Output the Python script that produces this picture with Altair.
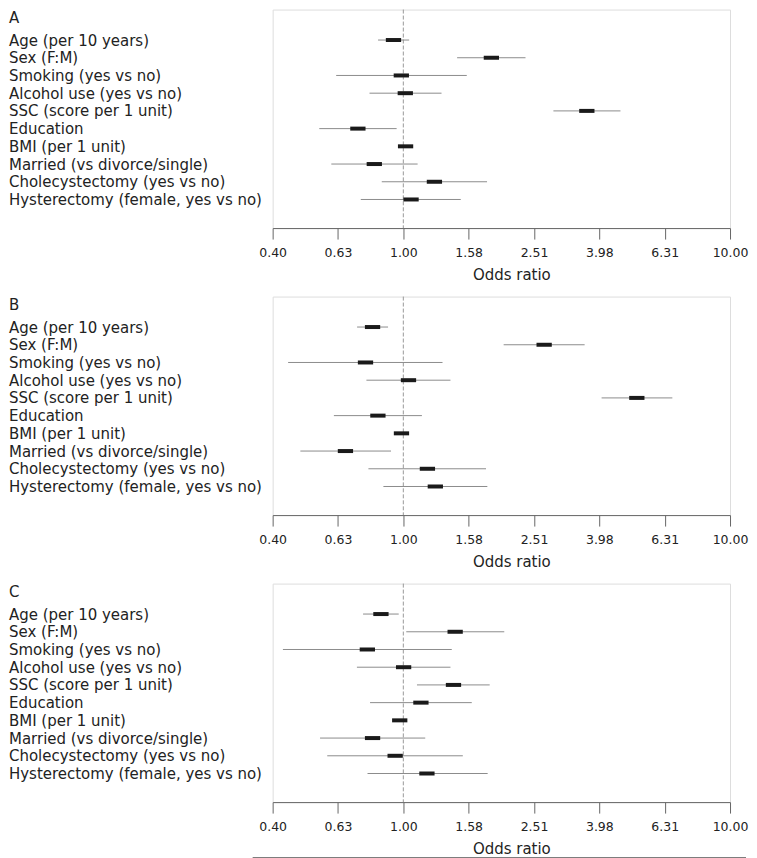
import altair as alt
import pandas as pd

labels = [
    "Age (per 10 years)",
    "Sex (F:M)",
    "Smoking (yes vs no)",
    "Alcohol use (yes vs no)",
    "SSC (score per 1 unit)",
    "Education",
    "BMI (per 1 unit)",
    "Married (vs divorce/single)",
    "Cholecystectomy (yes vs no)",
    "Hysterectomy (female, yes vs no)",
]

panel_letters = ["A", "B", "C"]

a_or = [0.933, 1.860, 0.986, 1.014, 3.645, 0.726, 1.016, 0.815, 1.245, 1.056]
a_lo = [0.837, 1.461, 0.623, 0.788, 2.880, 0.553, 0.990, 0.602, 0.859, 0.741]
a_hi = [1.042, 2.366, 1.564, 1.309, 4.620, 0.954, 1.040, 1.106, 1.804, 1.499]

b_or = [0.805, 2.698, 0.766, 1.037, 5.185, 0.836, 0.987, 0.665, 1.185, 1.253]
b_lo = [0.722, 2.028, 0.444, 0.771, 4.045, 0.613, 0.965, 0.484, 0.782, 0.869]
b_hi = [0.898, 3.589, 1.318, 1.394, 6.660, 1.140, 1.010, 0.917, 1.791, 1.808]

c_or = [0.854, 1.441, 0.776, 1.002, 1.424, 1.132, 0.975, 0.805, 0.944, 1.181]
c_lo = [0.753, 1.021, 0.428, 0.721, 1.101, 0.791, 0.955, 0.556, 0.585, 0.777]
c_hi = [0.968, 2.037, 1.407, 1.394, 1.838, 1.620, 0.995, 1.167, 1.521, 1.812]

tick_exponents = [-0.4, -0.2, 0.0, 0.2, 0.4, 0.6, 0.8, 1.0]
tick_values = [10 ** e for e in tick_exponents]
reference_or = [1.0]

FONT = "DejaVu Sans"
W = 458
H = 218.8
LABEL_PAD = 264.5
ROW_TOP = 30.5
ROW_STEP = 17.74


def panel(letter, ors, los, his, footer=False):
    df = pd.DataFrame({"label": labels, "or": ors, "lo": los, "hi": his})
    ref_df = pd.DataFrame({"v": reference_or})

    xs = alt.Scale(type="log", domain=[tick_values[0], tick_values[-1]], nice=False, zero=False)
    xaxis = alt.Axis(
        title="Odds ratio",
        values=tick_values,
        format=".2f",
        grid=False,
        domainColor="#666666",
        tickColor="#666666",
        tickSize=11,
        labelFont=FONT,
        labelFontSize=12.5,
        labelColor="#222222",
        labelBaseline="alphabetic",
        labelPadding=17.5,
        labelFlush=False,
        labelOverlap=False,
        titleFont=FONT,
        titleFontSize=15,
        titleFontWeight="normal",
        titleColor="#222222",
        titleAlign="center",
        titleBaseline="alphabetic",
        titleX=239,
        titleY=51,
    )
    ys = alt.Scale(
        type="point",
        range=[ROW_TOP, ROW_TOP + ROW_STEP * (len(labels) - 1)],
        padding=0,
    )
    yaxis = alt.Axis(
        title=letter,
        titleAngle=0,
        titleAlign="left",
        titleBaseline="alphabetic",
        titleX=-LABEL_PAD,
        titleY=13.3,
        titleFont=FONT,
        titleFontSize=15,
        titleFontWeight="normal",
        titleColor="#222222",
        domain=False,
        ticks=False,
        tickSize=0,
        grid=False,
        labelAlign="left",
        labelBaseline="middle",
        labelPadding=LABEL_PAD,
        labelLimit=500,
        labelFont=FONT,
        labelFontSize=15,
        labelColor="#222222",
    )
    yenc = alt.Y("label:N", sort=labels, scale=ys, axis=yaxis)

    ref = alt.Chart(ref_df).mark_rule(color="#999999", strokeDash=[4, 2], strokeWidth=1).encode(
        x=alt.X("v:Q", scale=xs, axis=xaxis)
    )
    ci = alt.Chart(df).mark_rule(color="#8c8c8c", strokeWidth=1).encode(
        x=alt.X("lo:Q", scale=xs, axis=xaxis),
        x2="hi:Q",
        y=yenc,
    )
    box = alt.Chart(df).mark_tick(
        orient="horizontal", size=15.3, thickness=4, color="#1a1a1a", opacity=1
    ).encode(
        x=alt.X("or:Q", scale=xs, axis=xaxis),
        y=yenc,
    )
    layers = [ref, ci, box]
    if footer:
        rule = alt.Chart(ref_df).mark_rule(color="#7a7a7a", strokeWidth=1).encode(
            x=alt.value(-20), x2=alt.value(474), y=alt.value(H + 55.5)
        )
        layers.append(rule)
    return alt.layer(*layers).properties(width=W, height=H)


chart = alt.vconcat(
    panel(panel_letters[0], a_or, a_lo, a_hi),
    panel(panel_letters[1], b_or, b_lo, b_hi),
    panel(panel_letters[2], c_or, c_lo, c_hi, footer=True),
    spacing=12.4,
).properties(
    padding={"left": 0, "top": 0, "right": 0, "bottom": 0}
).configure_view(strokeWidth=0, stroke="transparent").configure(font=FONT)

chart.save("out.html", embed_options={"renderer": "svg", "actions": False})
